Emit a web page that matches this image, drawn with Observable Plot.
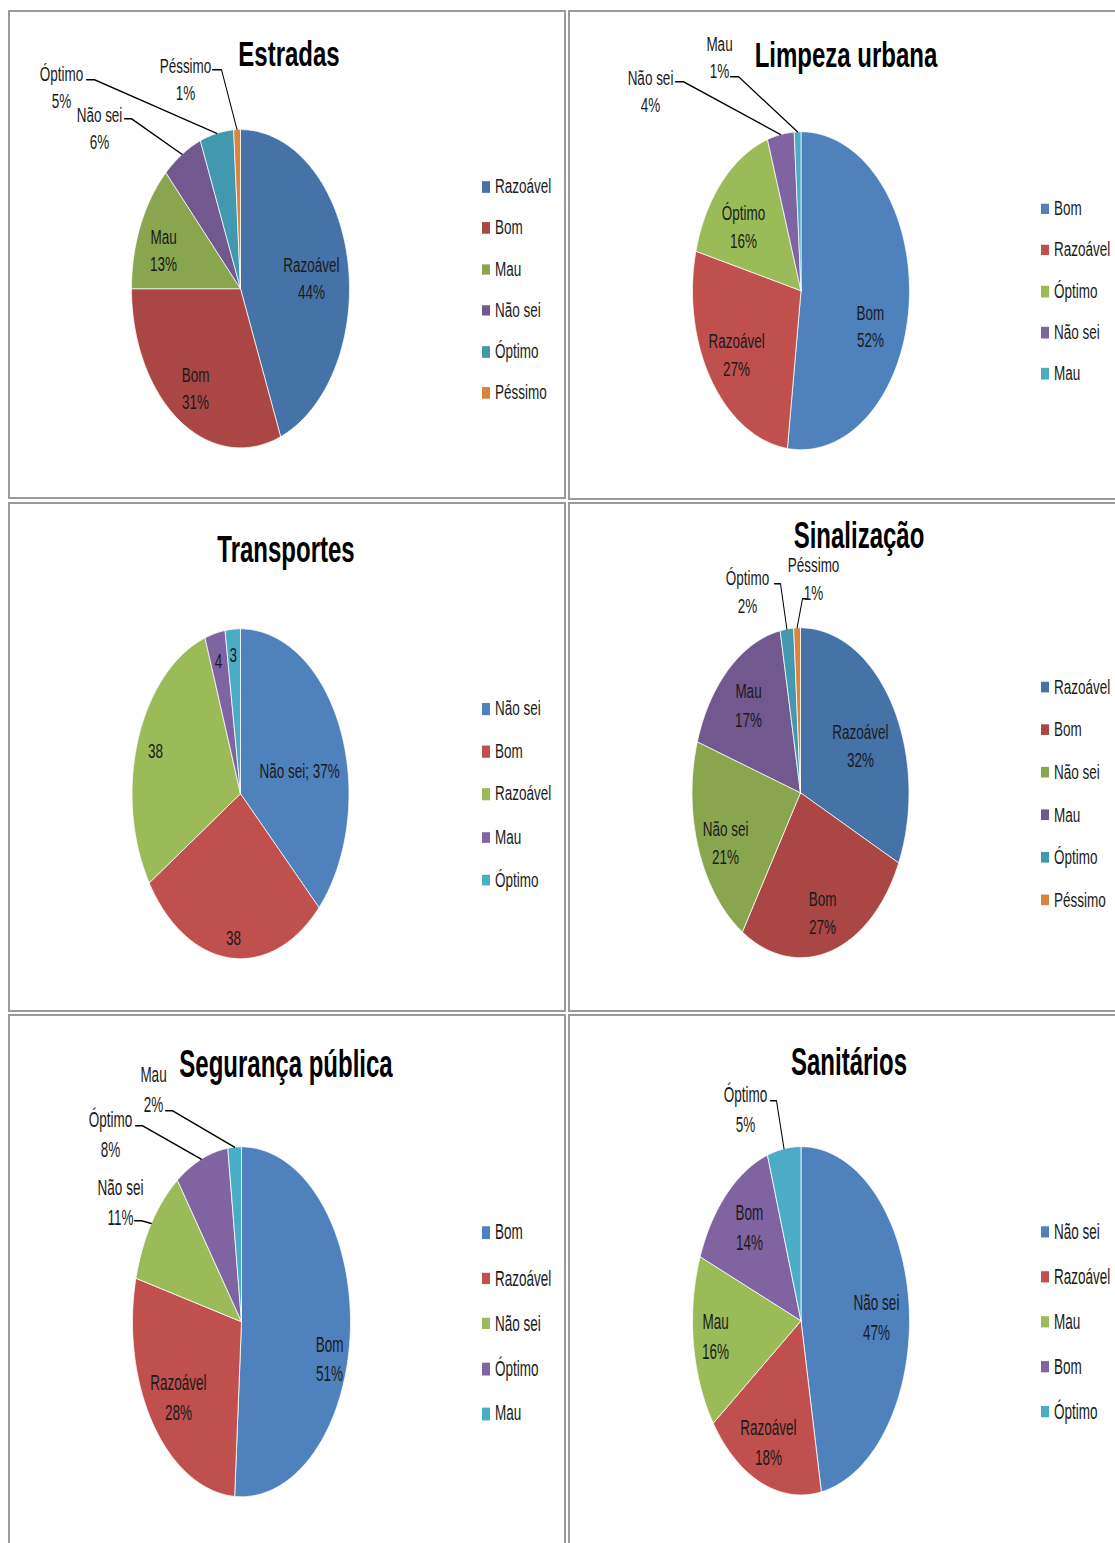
<!DOCTYPE html>
<html><head><meta charset="utf-8">
<script src="https://cdn.jsdelivr.net/npm/d3@7"></script>
<script src="https://cdn.jsdelivr.net/npm/@observablehq/plot@0.6"></script>
<style>
html,body{margin:0;padding:0;background:#fff;}
body{width:1115px;height:1543px;position:relative;overflow:hidden;font-family:"Liberation Sans",Arial,sans-serif;}
.panel{position:absolute;overflow:hidden;}
.frame{position:absolute;left:0;top:0;box-sizing:border-box;border:2px solid #9a9a9a;pointer-events:none;}
.content{position:absolute;left:0;top:0;transform-origin:0 0;}
.content svg{position:absolute;left:0;top:0;}
.title{position:absolute;font-weight:bold;font-size:24px;line-height:0.9;white-space:nowrap;transform:translate(-50%,-50%);color:#000;}
.leg{position:absolute;font-size:13.5px;line-height:1;white-space:nowrap;color:#1a1a1a;transform:translateY(-50%);display:flex;align-items:center;}
.sw{width:8px;height:7.5px;margin-right:5px;display:inline-block;}
</style></head><body>
<script>
// ---------------- DATA ----------------
const estradasTitle = "Estradas";
const estradasCategories = ["Razoável", "Bom", "Mau", "Não sei", "Óptimo", "Péssimo"];
const estradasValues = [44, 31, 13, 6, 5, 1];

const limpezaTitle = "Limpeza urbana";
const limpezaCategories = ["Bom", "Razoável", "Óptimo", "Não sei", "Mau"];
const limpezaValues = [52, 27, 16, 4, 1];

const transportesTitle = "Transportes";
const transportesCategories = ["Não sei", "Bom", "Razoável", "Mau", "Óptimo"];
const transportesValues = [49, 38, 38, 4, 3];
const transportesLabels = ["Não sei; 37%", "38", "38", "4", "3"];

const sinalizacaoTitle = "Sinalização";
const sinalizacaoCategories = ["Razoável", "Bom", "Não sei", "Mau", "Óptimo", "Péssimo"];
const sinalizacaoValues = [32, 27, 21, 17, 2, 1];

const segurancaTitle = "Segurança pública";
const segurancaCategories = ["Bom", "Razoável", "Não sei", "Óptimo", "Mau"];
const segurancaValues = [51, 28, 11, 8, 2];

const sanitariosTitle = "Sanitários";
const sanitariosCategories = ["Não sei", "Razoável", "Mau", "Bom", "Óptimo"];
const sanitariosValues = [47, 18, 16, 14, 5];

// ---------------- STYLES ----------------
const paletteDark = ["#4572A7", "#AA4643", "#89A54E", "#71588F", "#4198AF", "#DB843D"];
const paletteLight = ["#4F81BD", "#C0504D", "#9BBB59", "#8064A2", "#4BACC6", "#F79646"];
const FONT = '"Liberation Sans", Arial, sans-serif';

function pctLabels(cats, vals) {
  const t = d3.sum(vals);
  return cats.map((c, i) => `${c}\n${Math.round(vals[i] / t * 100)}%`);
}

const charts = [
  {title: estradasTitle, cats: estradasCategories, vals: estradasValues, labels: pctLabels(estradasCategories, estradasValues), colors: paletteDark},
  {title: limpezaTitle, cats: limpezaCategories, vals: limpezaValues, labels: pctLabels(limpezaCategories, limpezaValues), colors: paletteLight},
  {title: transportesTitle, cats: transportesCategories, vals: transportesValues, labels: transportesLabels, colors: paletteLight},
  {title: sinalizacaoTitle, cats: sinalizacaoCategories, vals: sinalizacaoValues, labels: pctLabels(sinalizacaoCategories, sinalizacaoValues), colors: paletteDark},
  {title: segurancaTitle, cats: segurancaCategories, vals: segurancaValues, labels: pctLabels(segurancaCategories, segurancaValues), colors: paletteLight},
  {title: sanitariosTitle, cats: sanitariosCategories, vals: sanitariosValues, labels: pctLabels(sanitariosCategories, sanitariosValues), colors: paletteLight}
];

// ---------------- LAYOUT ----------------
// inner: slice index -> [angle nudge (deg), radius fraction]
// outer: slice index -> label centre t, leader start a, elbow b (px offsets from pie centre)
const layouts = [
  {left: 8, top: 10, w: 558, h: 489, s: 1.46, cx: 240, cy: 288, rx: 109, title: [289, 54], legend: [482, 187, 41.2],
   inner: {0: [5.3, 0.654], 1: [-0.9, 0.752], 2: [-4.7, 0.745]},
   outer: {3: {t: [-141, -159.5], a: [-116, -170], b: [-109, -170]},
           4: {t: [-179, -200.5], a: [-154, -209], b: [-146, -209]},
           5: {t: [-55, -208.5], a: [-28, -219], b: [-19, -219]}}},
  {left: 568, top: 10, w: 560, h: 490, s: 1.465, cx: 800.5, cy: 290, rx: 108.5, title: [846, 55], legend: [1041, 209, 41.25],
   inner: {0: [15.9, 0.679], 1: [-0.3, 0.721], 2: [-6.4, 0.662]},
   outer: {3: {t: [-150.5, -199], a: [-125.5, -209], b: [-117.5, -209]},
           4: {t: [-81.5, -232.5], a: [-70.5, -214], b: [-62.5, -214]}}},
  {left: 8, top: 502, w: 558, h: 510, s: 1.52, cx: 240, cy: 793, rx: 108.5, title: [286, 549], legend: [482, 709, 42.75],
   inner: {0: [9.5, 0.56], 1: [-1.3, 0.881], 2: [-1, 0.824], 3: [-0.6, 0.825], 4: [-0.4, 0.839]},
   outer: {}},
  {left: 568, top: 502, w: 560, h: 510, s: 1.52, cx: 800, cy: 792, rx: 108.5, title: [859, 535], legend: [1041, 687, 42.6],
   inner: {0: [5.6, 0.619], 1: [0.7, 0.761], 2: [-4.3, 0.757], 3: [-0.9, 0.712]},
   outer: {4: {t: [-53, -200], a: [-26, -209], b: [-20, -209]},
           5: {t: [13, -213], a: [6, -194], b: [2, -194]}}},
  {left: 8, top: 1014, w: 558, h: 545, s: 1.605, cx: 241, cy: 1321, rx: 109, title: [286, 1064], legend: [482, 1233, 45.25],
   inner: {0: [13.2, 0.836], 1: [-0.9, 0.723]},
   outer: {2: {t: [-121, -118.5], a: [-107, -101], b: [-100, -101]},
           3: {t: [-131, -187], a: [-106, -196], b: [-99, -196]},
           4: {t: [-88, -231.5], a: [-76, -211], b: [-69, -211]}}},
  {left: 568, top: 1014, w: 560, h: 545, s: 1.605, cx: 800.5, cy: 1320, rx: 108.5, title: [849, 1062], legend: [1041, 1232, 45],
   inner: {0: [4, 0.696], 1: [1.6, 0.762], 2: [0.5, 0.793], 3: [1.5, 0.715]},
   outer: {4: {t: [-55.5, -211], a: [-30.5, -220], b: [-24.5, -220]}}}
];

// ---------------- DRAW ----------------
const pie = d3.pie().sort(null).value(d => d);
const pt = (a, r) => ({x: r * Math.sin(a), y: r * Math.cos(a)});

charts.forEach((ch, ci) => {
  const L = layouts[ci];
  const Hs = L.h / L.s;
  const cxL = L.cx - L.left, cyL = (L.cy - L.top) / L.s;
  const ry = L.rx * L.s;
  const off = ([dx, dy]) => ({x: dx / L.rx, y: -dy / ry});

  const arcs = pie(ch.vals);
  const marks = [];
  arcs.forEach((a, i) => {
    const pts = [{x: 0, y: 0}];
    const n = Math.max(2, Math.ceil((a.endAngle - a.startAngle) / 0.01));
    for (let k = 0; k <= n; k++) pts.push(pt(a.startAngle + (a.endAngle - a.startAngle) * k / n, 1));
    pts.push({x: 0, y: 0});
    marks.push(Plot.line(pts, {x: "x", y: "y", fill: ch.colors[i], stroke: "white", strokeWidth: 0.6, strokeLinejoin: "round"}));
  });

  const inner = [], outerText = [], leaders = [];
  arcs.forEach((a, i) => {
    const mid = (a.startAngle + a.endAngle) / 2;
    if (L.inner[i]) {
      const [dA, r] = L.inner[i];
      const p = pt(mid + dA * Math.PI / 180, r);
      inner.push({...p, text: ch.labels[i]});
    } else if (L.outer[i]) {
      const o = L.outer[i];
      outerText.push({...off(o.t), text: ch.labels[i]});
      const edge = pt(mid, 1);
      leaders.push({...off(o.a), k: i}, {...off(o.b), k: i}, {...edge, k: i});
    }
  });
  marks.push(Plot.line(leaders, {x: "x", y: "y", z: "k", stroke: "#000", strokeWidth: 1, curve: "linear"}));
  marks.push(Plot.text(inner, {x: "x", y: "y", text: "text", fontSize: 13.5, lineHeight: 1.37, fill: "#1a1a1a", dy: -1.6}));
  marks.push(Plot.text(outerText, {x: "x", y: "y", text: "text", fontSize: 13.5, lineHeight: 1.37, fill: "#1a1a1a", dy: -1.6}));

  const svg = Plot.plot({
    width: L.w, height: Hs, margin: 0,
    x: {domain: [-cxL / L.rx, (L.w - cxL) / L.rx], range: [0, L.w], axis: null},
    y: {domain: [-(Hs - cyL) / L.rx, cyL / L.rx], range: [Hs, 0], axis: null},
    style: {fontFamily: FONT, fontSize: "13.5px", background: "transparent", overflow: "visible"},
    marks
  });

  const panel = document.createElement("div");
  panel.className = "panel";
  Object.assign(panel.style, {left: L.left + "px", top: L.top + "px", width: L.w + "px", height: L.h + "px"});
  const content = document.createElement("div");
  content.className = "content";
  Object.assign(content.style, {width: L.w + "px", height: Hs + "px", transform: `scaleY(${L.s})`});
  content.appendChild(svg);

  const t = document.createElement("div");
  t.className = "title";
  t.textContent = ch.title;
  t.style.left = (L.title[0] - L.left) + "px";
  t.style.top = ((L.title[1] - L.top) / L.s) + "px";
  content.appendChild(t);

  const [lx, ly0, ldy] = L.legend;
  ch.cats.forEach((c, i) => {
    const row = document.createElement("div");
    row.className = "leg";
    row.style.left = (lx - L.left) + "px";
    row.style.top = ((ly0 + i * ldy - L.top) / L.s) + "px";
    const sw = document.createElement("span");
    sw.className = "sw";
    sw.style.background = ch.colors[i];
    row.appendChild(sw);
    row.appendChild(document.createTextNode(c));
    content.appendChild(row);
  });

  panel.appendChild(content);
  const frame = document.createElement("div");
  frame.className = "frame";
  Object.assign(frame.style, {width: L.w + "px", height: L.h + "px"});
  panel.appendChild(frame);
  document.body.appendChild(panel);
});
</script>
</body></html>
